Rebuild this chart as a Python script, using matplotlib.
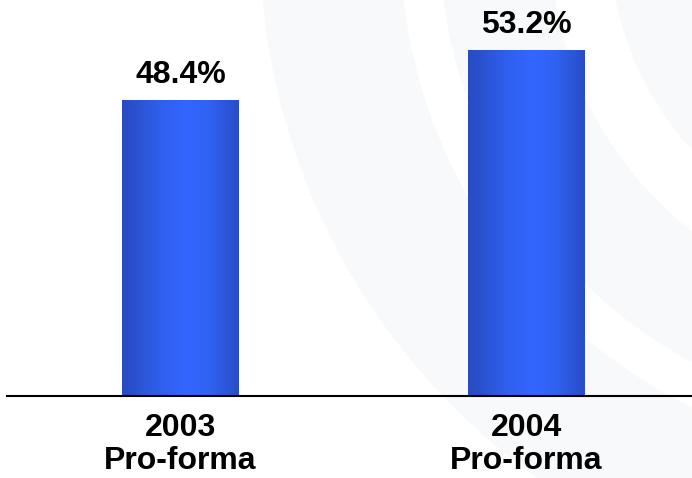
import matplotlib
matplotlib.use("Agg")
import matplotlib.pyplot as plt
import numpy as np
from matplotlib.colors import LinearSegmentedColormap
from matplotlib.patches import Wedge

categories = ["2003\nPro-forma", "2004\nPro-forma"]
values = [48.4, 53.2]
labels = ["48.4%", "53.2%"]

plt.rcParams['font.family'] = ['Liberation Sans', 'DejaVu Sans']

fig = plt.figure(figsize=(6.92, 4.78), dpi=100)
fig.patch.set_facecolor('white')

# very faint watermark in background
bg = fig.add_axes([0, 0, 1, 1], zorder=0)
bg.set_xlim(0, 692)
bg.set_ylim(478, 0)
bg.axis('off')
wcol = '#f7f9fb'
for (r, w) in [(660, 140), (480, 110), (310, 100)]:
    bg.add_patch(Wedge((920, -60), r, 90, 200, width=w, facecolor=wcol, edgecolor='none'))

ax = fig.add_axes([7/692, (478-396)/478, 685/692, 396/478], zorder=1)
ax.patch.set_alpha(0)
x = np.arange(len(values))
bars = ax.bar(x, values, width=0.336, bottom=0, color='none', edgecolor='none')
ax.set_ylim(20, 58)
ax.set_xlim(-0.502, 1.48)

cmap = LinearSegmentedColormap.from_list('g', [
    (0.0, '#284CC4'), (0.1, '#2A50CC'), (0.2, '#2D58DC'), (0.35, '#3060F0'),
    (0.55, '#3366FF'), (0.75, '#3062F2'), (0.9, '#2C55D8'), (1.0, '#284CC4')])
grad = np.linspace(0, 1, 256).reshape(1, -1)
for b in bars:
    x0, w = b.get_x(), b.get_width()
    im = ax.imshow(grad, cmap=cmap, aspect='auto', extent=[x0, x0 + w, 20, b.get_height()],
                   zorder=2, interpolation='bicubic')
    im.set_clip_path(b)

for xi, v, t in zip(x, values, labels):
    ax.annotate(t, (xi, v), xytext=(0, 12), textcoords='offset points', ha='center', va='baseline',
                fontsize=23, fontweight='bold', color='black')

for s in ['top', 'right', 'left']:
    ax.spines[s].set_visible(False)
ax.spines['bottom'].set_linewidth(1.5)
ax.spines['bottom'].set_color('black')
ax.set_yticks([])
ax.set_xticks(x)
ax.set_xticklabels(categories, fontsize=23, fontweight='bold', linespacing=1.15)
ax.tick_params(axis='x', length=0, pad=12)

fig.savefig('out.png', dpi=100)
